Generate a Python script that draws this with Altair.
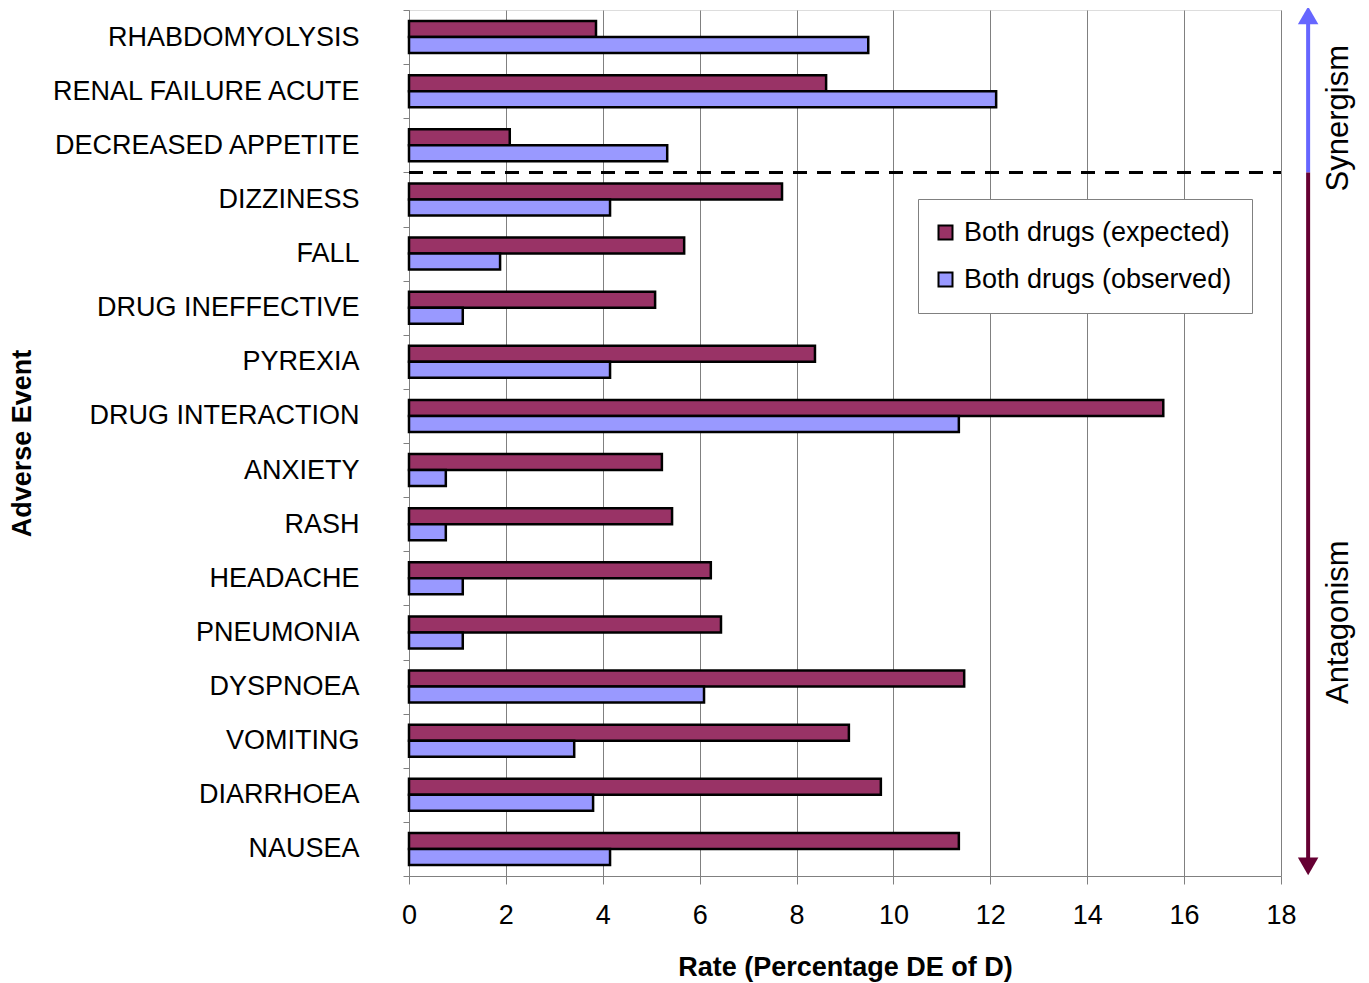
import altair as alt
import pandas as pd

events = ["RHABDOMYOLYSIS", "RENAL FAILURE ACUTE", "DECREASED APPETITE", "DIZZINESS",
          "FALL", "DRUG INEFFECTIVE", "PYREXIA", "DRUG INTERACTION", "ANXIETY", "RASH",
          "HEADACHE", "PNEUMONIA", "DYSPNOEA", "VOMITING", "DIARRHOEA", "NAUSEA"]
expected = [3.86, 8.61, 2.08, 7.70, 5.68, 5.08, 8.38, 15.57, 5.22, 5.43,
            6.23, 6.44, 11.46, 9.08, 9.74, 11.35]
observed = [9.48, 12.12, 5.33, 4.15, 1.88, 1.11, 4.15, 11.35, 0.76, 0.76,
            1.11, 1.11, 6.09, 3.41, 3.80, 4.15]
series = ["Both drugs (expected)", "Both drugs (observed)"]
colors = ["#993366", "#9999FF"]
x_ticks = [0, 2, 4, 6, 8, 10, 12, 14, 16, 18]

rows = []
for e, a, b in zip(events, expected, observed):
    rows.append({"event": e, "series": series[0], "rate": a})
    rows.append({"event": e, "series": series[1], "rate": b})
df = pd.DataFrame(rows)

FONT = "Liberation Sans"
W, H = 872, 866
xscale = alt.Scale(domain=[0, 18], nice=False, zero=True)
n = len(events)

bars = alt.Chart(df).mark_bar(stroke="black", strokeWidth=2.5).encode(
    x=alt.X("rate:Q", scale=xscale,
            axis=alt.Axis(values=x_ticks, grid=True, gridColor="#808080", gridWidth=1,
                          domainColor="#808080", tickColor="#808080", tickSize=8,
                          labelFontSize=27, labelFont=FONT, labelColor="black",
                          labelPadding=18, labelFlush=False, labelOverlap=False,
                          title="Rate (Percentage DE of D)", titleFont=FONT,
                          titleFontSize=27, titleFontWeight="bold", titleColor="black",
                          titleX=W / 2, titleY=91, titleBaseline="middle")),
    y=alt.Y("event:N", sort=events,
            scale=alt.Scale(domain=events, paddingInner=0, paddingOuter=0),
            axis=alt.Axis(tickBand="extent", grid=False, domainColor="#808080",
                          tickColor="#808080", tickSize=6, labelFontSize=27,
                          labelFont=FONT, labelColor="black", labelPadding=44,
                          labelAlign="right", labelLimit=400,
                          title="Adverse Event", titleFont=FONT, titleFontSize=27,
                          titleFontWeight="bold", titleColor="black",
                          titleAngle=270, titleX=-387, titleY=H / 2,
                          titleAlign="center", titleBaseline="middle")),
    yOffset=alt.YOffset("series:N", sort=series,
                        scale=alt.Scale(domain=series, paddingInner=0, paddingOuter=0.6875)),
    color=alt.Color("series:N", sort=series,
                    scale=alt.Scale(domain=series, range=colors),
                    legend=alt.Legend(title=None, orient="none", legendX=509, legendY=189,
                                      padding=20, rowPadding=19, fillColor="white",
                                      strokeColor="#808080", labelFont=FONT,
                                      labelFontSize=27, labelColor="black",
                                      labelOffset=5, labelLimit=400, symbolType="square",
                                      symbolOffset=-6,
                                      symbolSize=196, symbolStrokeColor="black",
                                      symbolStrokeWidth=2)),
)

# annotation layer in band units (0 = top, 16 = bottom)
pos_scale = alt.Scale(domain=[0, n], reverse=True, nice=False, zero=False)

div_df = pd.DataFrame({"pos": [3], "x0": [0], "x1": [18]})
divider = alt.Chart(div_df).mark_rule(strokeDash=[14, 10], strokeWidth=3, color="black").encode(
    y=alt.Y("pos:Q", scale=pos_scale, axis=None),
    x=alt.X("x0:Q", scale=xscale),
    x2="x1:Q",
)

arrow_x = 18.56
arr_df = pd.DataFrame({
    "x": [arrow_x, arrow_x],
    "p0": [0.25, 3.0],
    "p1": [3.0, 15.75],
    "c": ["#6666FF", "#660033"],
})
arrows = alt.Chart(arr_df).mark_rule(strokeWidth=4).encode(
    x=alt.X("x:Q", scale=xscale),
    y=alt.Y("p0:Q", scale=pos_scale, axis=None),
    y2="p1:Q",
    color=alt.Color("c:N", scale=None, legend=None),
)

head_up = alt.Chart(pd.DataFrame({"x": [arrow_x], "pos": [0.1]})).mark_point(
    shape="triangle-up", filled=True, size=420, color="#6666FF", opacity=1).encode(
    x=alt.X("x:Q", scale=xscale),
    y=alt.Y("pos:Q", scale=pos_scale, axis=None),
)
head_down = alt.Chart(pd.DataFrame({"x": [arrow_x], "pos": [15.82]})).mark_point(
    shape="triangle-down", filled=True, size=420, color="#660033", opacity=1).encode(
    x=alt.X("x:Q", scale=xscale),
    y=alt.Y("pos:Q", scale=pos_scale, axis=None),
)

lab_df = pd.DataFrame({"x": [19.2, 19.2], "pos": [2.0, 11.31],
                       "t": ["Synergism", "Antagonism"]})
side_labels = alt.Chart(lab_df).mark_text(angle=270, font=FONT, fontSize=31,
                                          color="black", align="center",
                                          baseline="middle").encode(
    x=alt.X("x:Q", scale=xscale),
    y=alt.Y("pos:Q", scale=pos_scale, axis=None),
    text="t:N",
)

annot = alt.layer(divider, arrows, head_up, head_down, side_labels)

chart = alt.layer(bars, annot).resolve_scale(y="independent", color="independent").properties(
    width=W, height=H,
    autosize=alt.AutoSizeParams(type="none"),
    padding={"left": 401, "top": 2, "right": 80, "bottom": 112},
).configure_view(stroke="#808080", strokeWidth=1).configure(background="white")

chart.save("out.html", embed_options={"renderer": "svg", "actions": False})
